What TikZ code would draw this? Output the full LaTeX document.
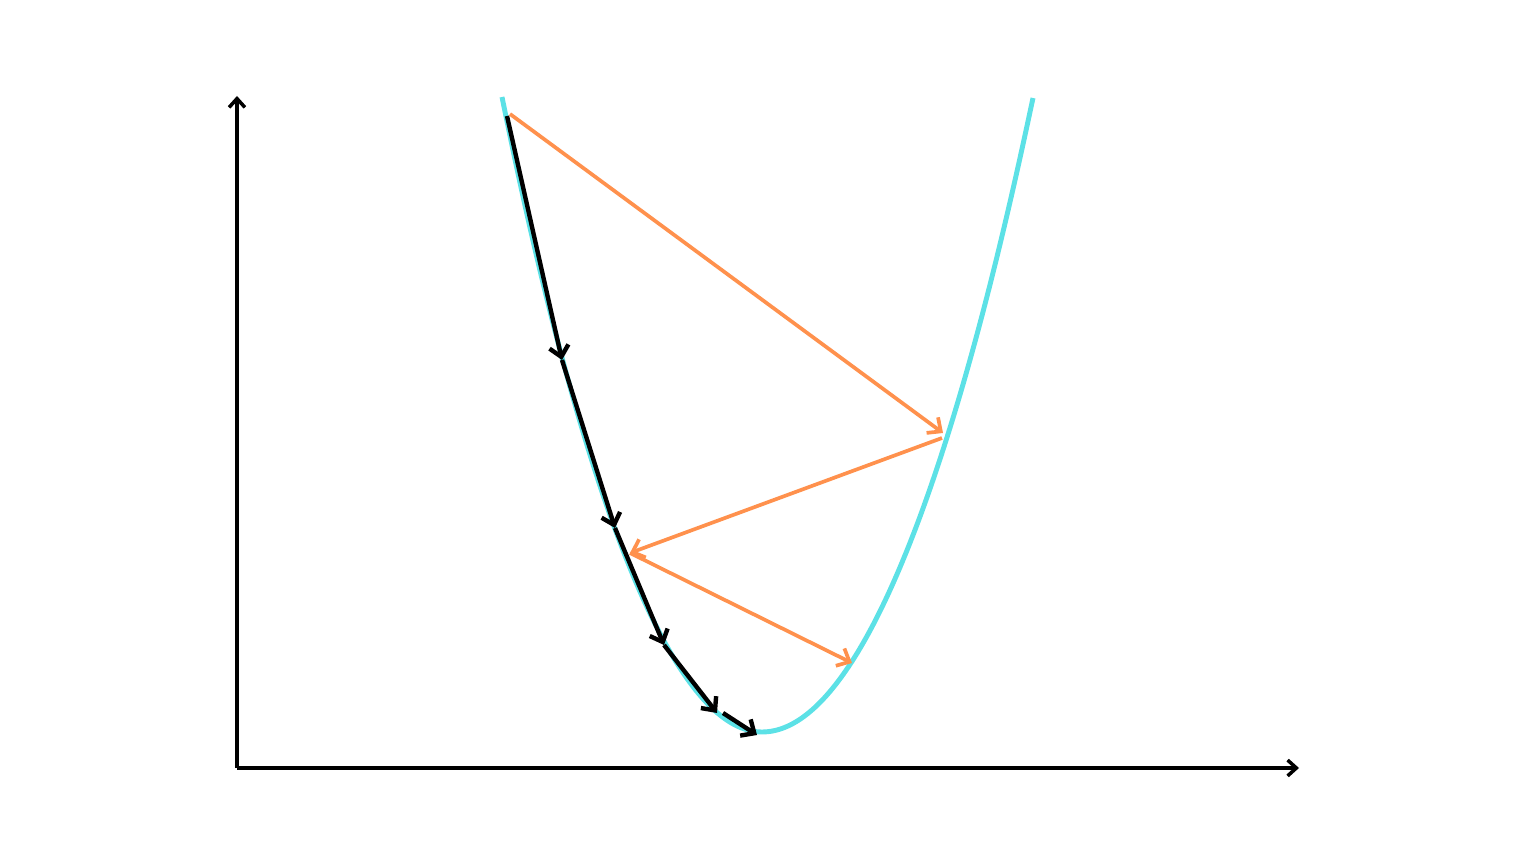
\documentclass[tikz,border=0pt]{standalone}
\usetikzlibrary{arrows.meta}

\definecolor{curvecyan}{HTML}{5CE1E6}
\definecolor{steporange}{HTML}{FF914D}

\begin{document}
\begin{tikzpicture}[x=0.01cm,y=-0.01cm,
	axis/.style={line width=1pt,-{Straight Barb[length=2.5pt,width=4.5pt]}},
	smallstep/.style={line width=1.25pt,-{Straight Barb[length=3pt,width=5.5pt]}},
	bigstep/.style={line width=1.05pt,color=steporange,-{Straight Barb[length=3pt,width=5.5pt]}}]
	\useasboundingbox (0,0) rectangle (1536,864);

	\coordinate (origin) at (237,768);
	\coordinate (ytop) at (237,96);
	\coordinate (xend) at (1299,768);
	\draw[axis] (origin) -- (ytop);
	\draw[axis] (origin) -- (xend);

	% loss curve
	\coordinate (cleft) at (502,97);
	\coordinate (cmin) at (762,732);
	\coordinate (cright) at (1033,98);
	\draw[color=curvecyan,line width=1.4pt] (cleft) parabola bend (cmin) (cright);

	% small learning rate
	\coordinate (s0) at (507,116);
	\coordinate (s1) at (562,360);
	\coordinate (s2) at (615,528);
	\coordinate (s3) at (664,645);
	\coordinate (s4) at (717,713);
	\coordinate (s5) at (757,735);
	\draw[smallstep] (s0) -- (s1);
	\draw[smallstep] (s1) -- (s2);
	\draw[smallstep] (s2) -- (s3);
	\draw[smallstep] (s3) -- (s4);
	\draw[smallstep] (s4) ++(6,0) -- (s5);

	% large learning rate
	\coordinate (b0) at (510,114);
	\coordinate (b1) at (943,433);
	\coordinate (b1s) at (942,438);
	\coordinate (b2) at (630,553);
	\coordinate (b3) at (852,663);
	\draw[bigstep] (b0) -- (b1);
	\draw[bigstep] (b1s) -- (b2);
	\draw[bigstep] (b2) -- (b3);
\end{tikzpicture}
\end{document}
